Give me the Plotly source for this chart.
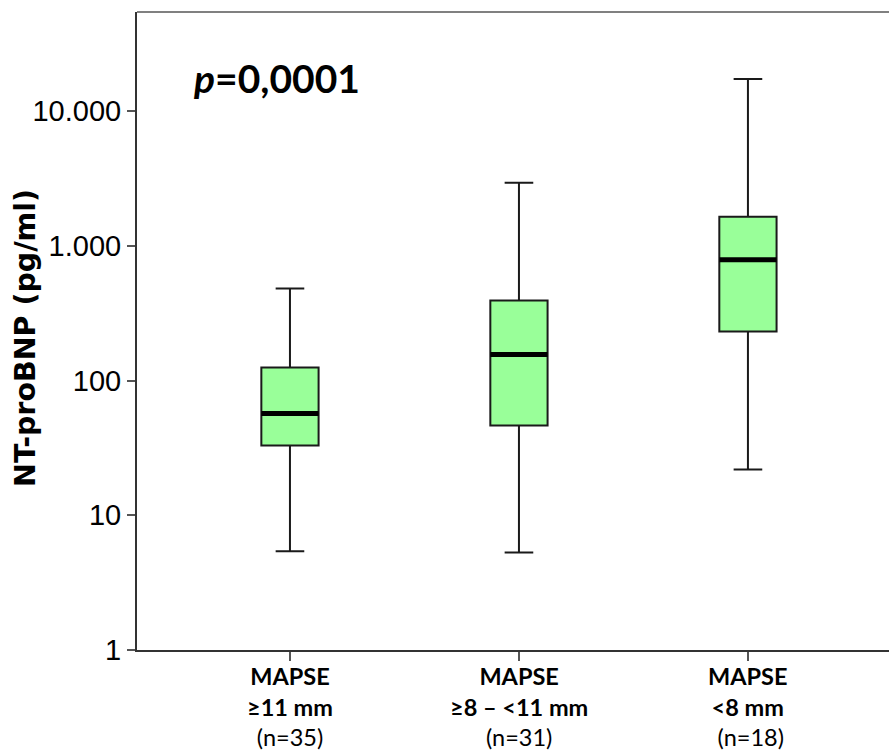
import plotly.graph_objects as go

categories = ["MAPSE ≥11 mm", "MAPSE ≥8 – <11 mm", "MAPSE <8 mm"]
label_line1 = ["MAPSE", "MAPSE", "MAPSE"]
label_line2 = ["≥11 mm", "≥8 – <11 mm", "<8 mm"]
label_line3 = ["(n=35)", "(n=31)", "(n=18)"]
lower = [5.4, 5.3, 21.9]
q1 = [32.9, 46.4, 231]
median = [56.9, 156, 787]
q3 = [125, 393, 1641]
upper = [482, 2935, 17280]
y_tickvals = [1, 10, 100, 1000, 10000]
y_ticktext = ["1", "10", "100", "1.000", "10.000"]

positions = list(range(len(categories)))
box_w = 0.25
LABEL_FONT = "Lato, Arial"

fig = go.Figure()
fig.add_trace(go.Box(
    x=positions, q1=q1, median=median, q3=q3,
    lowerfence=lower, upperfence=upper,
    width=box_w, whiskerwidth=0.5,
    fillcolor="#99ff99",
    line=dict(color="#1a1a1a", width=2),
    boxpoints=False, showlegend=False, hoverinfo="skip",
))
# thick median lines
for i, m in zip(positions, median):
    fig.add_trace(go.Scatter(
        x=[i - box_w / 2, i + box_w / 2], y=[m, m], mode="lines",
        line=dict(color="black", width=5), showlegend=False, hoverinfo="skip",
    ))

fig.add_shape(type="line", xref="paper", yref="paper", x0=0, x1=1, y0=1, y1=1,
              line=dict(color="#808080", width=2))

# category labels (three lines each)
for i, (a, b, c) in enumerate(zip(label_line1, label_line2, label_line3)):
    fig.add_annotation(
        x=positions[i], xref="x", y=0, yref="paper", yshift=-56,
        xanchor="center", yanchor="middle", showarrow=False,
        text=f"<b>{a}</b><br><b>{b}</b><br>{'&nbsp;' if i == 2 else ''}{c}",
        font=dict(family=LABEL_FONT, size=23.5, color="black"))

# y-axis title
fig.add_annotation(xref="paper", yref="paper", x=-0.149, y=0.489,
                   xanchor="center", yanchor="middle", showarrow=False,
                   textangle=-90, text="<b>NT-proBNP (pg/ml)</b>",
                   font=dict(family="DejaVu Sans", size=28.5, color="black"))

fig.add_annotation(xref="paper", yref="paper", x=0.072, y=0.897,
                   xanchor="left", yanchor="middle", showarrow=False,
                   text="<b><i>p</i>=0,0001</b>",
                   font=dict(family=LABEL_FONT, size=39, color="black"))

fig.update_layout(
    width=889, height=755,
    margin=dict(l=137, r=0, t=12, b=105),
    paper_bgcolor="white", plot_bgcolor="white",
    font=dict(family=LABEL_FONT, color="black"),
    xaxis=dict(
        range=[-0.668, 2.616], tickvals=positions, ticktext=["", "", ""],
        showgrid=False, zeroline=False, showline=True, linecolor="#333333", linewidth=2,
        ticks="outside", ticklen=9, tickwidth=1.5, tickcolor="#555555",
    ),
    yaxis=dict(
        type="log", range=[0, 4.735], tickvals=y_tickvals, ticktext=y_ticktext,
        showgrid=False, zeroline=False, showline=True, linecolor="#333333", linewidth=2,
        ticks="outside", ticklen=8, tickwidth=1.5, tickcolor="#555555",
        tickfont=dict(family="Liberation Sans, Arial", size=29, color="black"),
    ),
)

fig.write_html("out.html")
